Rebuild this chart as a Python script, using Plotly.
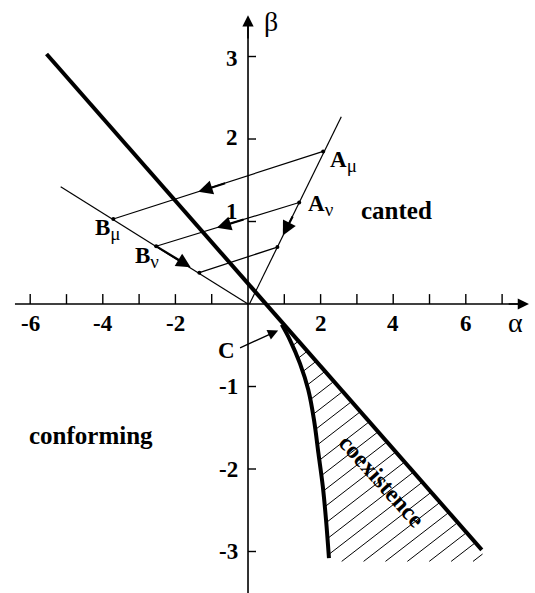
import plotly.graph_objects as go

# ---- phase diagram data (alpha, beta) ----
# straight first-order boundary (thick)
boundary_alpha = [-5.55, 6.44]
boundary_beta = [3.03, -2.98]

# curved boundary of the coexistence region, starting at point C
curve_alpha = [0.93, 1.16, 1.43, 1.66, 1.82, 1.94, 2.06, 2.15, 2.23]
curve_beta = [-0.25, -0.44, -0.72, -1.04, -1.41, -1.81, -2.21, -2.62, -3.08]

# lower closing edge of the hatched region
hatch_bottom_alpha = [2.25, 6.50, 6.44]
hatch_bottom_beta = [-3.12, -3.12, -2.98]

# thin rays through the origin (A side and B side)
a_ray_alpha = [0.04, 2.57]
a_ray_beta = [0.0, 2.27]
b_ray_alpha = [-5.16, 0.0]
b_ray_beta = [1.42, 0.0]

# mapping segments A -> B
seg_names = ["mu", "nu", "low"]
seg_a_alpha = [2.07, 1.41, 0.81]
seg_a_beta = [1.85, 1.23, 0.69]
seg_b_alpha = [-3.71, -2.53, -1.34]
seg_b_beta = [1.03, 0.70, 0.38]

# flow arrows: head and tail positions
arrow_head_alpha = [-1.37, -0.86, 0.96, -1.58]
arrow_head_beta = [1.36, 0.925, 0.83, 0.446]
arrow_tail_alpha = [-0.59, -0.08, 1.25, -2.53]
arrow_tail_beta = [1.47, 1.03, 1.08, 0.70]

# pointer to C
c_head = (0.83, -0.32)
c_tail = (-0.26, -0.54)

# axes
x_ticks = [-6, -5, -4, -3, -2, -1, 1, 2, 3, 4, 5, 6, 7]
x_tick_labels = ["-6", "-4", "-2", "2", "4", "6"]
x_tick_label_pos = [-6, -4, -2, 2, 4, 6]
y_ticks = [-3, -2, -1, 1, 2, 3]
y_tick_labels = ["-3", "-2", "-1", "1", "2", "3"]
y_tick_label_pos = [-3.0, -2.0, -1.0, 1.12, 2.02, 2.97]

X_AXIS = (-6.42, 7.74)
Y_AXIS = (-3.52, 3.50)
X_RANGE = [-6.832, 7.906]
Y_RANGE = [-3.503, 3.685]

# hatching: slope in data units and spacing of the lines (beta offset)
HATCH_SLOPE = 0.34
HATCH_STEP = 0.205

SERIF = "Liberation Serif, Times New Roman, serif"
BLACK = "black"


def hatch_segments(px, py, slope, step):
    """Clip the family of lines beta = slope*alpha + c to the polygon (px, py)."""
    n = len(px)
    offsets = [py[i] - slope * px[i] for i in range(n)]
    c = min(offsets) + step * 0.5
    xs, ys = [], []
    while c < max(offsets):
        hits = []
        for i in range(n):
            x1, y1 = px[i], py[i]
            x2, y2 = px[(i + 1) % n], py[(i + 1) % n]
            f1 = y1 - slope * x1 - c
            f2 = y2 - slope * x2 - c
            if (f1 > 0) != (f2 > 0):
                t = f1 / (f1 - f2)
                hits.append(x1 + t * (x2 - x1))
        hits.sort()
        for j in range(0, len(hits) - 1, 2):
            xs += [hits[j], hits[j + 1], None]
            ys += [slope * hits[j] + c, slope * hits[j + 1] + c, None]
        c += step
    return xs, ys


fig = go.Figure()

# hatched coexistence region
poly_a = curve_alpha + hatch_bottom_alpha
poly_b = curve_beta + hatch_bottom_beta
hx, hy = hatch_segments(poly_a, poly_b, HATCH_SLOPE, HATCH_STEP)
fig.add_trace(go.Scatter(x=hx, y=hy, mode="lines", line=dict(color=BLACK, width=1.0),
                         hoverinfo="skip"))

# axes lines
fig.add_trace(go.Scatter(x=[X_AXIS[0], X_AXIS[1] - 0.25], y=[0, 0], mode="lines",
                         line=dict(color=BLACK, width=1.6), hoverinfo="skip"))
fig.add_trace(go.Scatter(x=[0, 0], y=[Y_AXIS[0], Y_AXIS[1] - 0.1], mode="lines",
                         line=dict(color=BLACK, width=1.6), hoverinfo="skip"))

# tick marks
tx, ty = [], []
for t in x_ticks:
    tx += [t, t, None]
    ty += [0, 0.12, None]
for t in y_ticks:
    tx += [0, 0.22, None]
    ty += [t, t, None]
fig.add_trace(go.Scatter(x=tx, y=ty, mode="lines", line=dict(color=BLACK, width=1.4),
                         hoverinfo="skip"))

# thin rays
fig.add_trace(go.Scatter(x=a_ray_alpha, y=a_ray_beta, mode="lines",
                         line=dict(color=BLACK, width=1.2), hoverinfo="skip"))
fig.add_trace(go.Scatter(x=b_ray_alpha, y=b_ray_beta, mode="lines",
                         line=dict(color=BLACK, width=1.2), hoverinfo="skip"))

# A -> B segments
for i in range(len(seg_names)):
    fig.add_trace(go.Scatter(x=[seg_a_alpha[i], seg_b_alpha[i]], y=[seg_a_beta[i], seg_b_beta[i]],
                             mode="lines", line=dict(color=BLACK, width=1.2), hoverinfo="skip"))

# end-point dots
fig.add_trace(go.Scatter(x=seg_a_alpha + seg_b_alpha, y=seg_a_beta + seg_b_beta, mode="markers",
                         marker=dict(color=BLACK, size=4), hoverinfo="skip"))

# thick boundaries
fig.add_trace(go.Scatter(x=boundary_alpha, y=boundary_beta, mode="lines",
                         line=dict(color=BLACK, width=4), hoverinfo="skip"))
fig.add_trace(go.Scatter(x=curve_alpha, y=curve_beta, mode="lines", line_shape="spline",
                         line=dict(color=BLACK, width=4), hoverinfo="skip"))

annotations = []


def arrow(hx_, hy_, tx_, ty_, width=2.2, size=1.3, head=2):
    annotations.append(dict(x=hx_, y=hy_, ax=tx_, ay=ty_, xref="x", yref="y", axref="x", ayref="y",
                            text="", showarrow=True, arrowhead=head, arrowsize=size,
                            arrowwidth=width, arrowcolor=BLACK, standoff=0, startstandoff=0))


for i in range(len(arrow_head_alpha)):
    arrow(arrow_head_alpha[i], arrow_head_beta[i], arrow_tail_alpha[i], arrow_tail_beta[i])

arrow(c_head[0], c_head[1], c_tail[0], c_tail[1], width=1.3, size=1.6)

# axis arrowheads
arrow(X_AXIS[1], 0, X_AXIS[1] - 0.6, 0, width=1.6, size=1.4)
arrow(0, Y_AXIS[1], 0, Y_AXIS[1] - 0.3, width=1.6, size=1.4)


def label(x, y, text, size=22, bold=True, xanchor="center", yanchor="middle", angle=0):
    annotations.append(dict(x=x, y=y, xref="x", yref="y", text=text, showarrow=False,
                            xanchor=xanchor, yanchor=yanchor, textangle=angle,
                            font=dict(family=SERIF, size=size, color=BLACK,
                                      weight="bold" if bold else "normal")))


def point_label(name, sub):
    return (name + "<sub><span style='font-size:19px;font-weight:normal'>"
            + sub + "</span></sub>")


for pos, txt in zip(x_tick_label_pos, x_tick_labels):
    label(pos, -0.235, txt, size=23)
for pos, txt in zip(y_tick_label_pos, y_tick_labels):
    label(-0.22, pos, txt, size=23, xanchor="right")

label(7.36, -0.22, "α", size=28, bold=False)
label(0.63, 3.43, "β", size=28, bold=False)

label(2.20, 1.73, point_label("A", "μ"), size=23, xanchor="left")
label(1.60, 1.20, point_label("A", "ν"), size=23, xanchor="left")
label(-4.28, 0.90, point_label("B", "μ"), size=23, xanchor="left")
label(-3.18, 0.56, point_label("B", "ν"), size=23, xanchor="left")
label(-0.58, -0.56, "C", size=23)

label(3.06, 1.13, "canted", size=25, xanchor="left")
label(-6.10, -1.59, "conforming", size=25, xanchor="left")
label(3.68, -2.15, "coexistence", size=24, angle=48)

fig.update_layout(
    width=535, height=593,
    margin=dict(l=0, r=0, t=0, b=0),
    paper_bgcolor="white", plot_bgcolor="white",
    showlegend=False,
    xaxis=dict(range=X_RANGE, visible=False, fixedrange=True),
    yaxis=dict(range=Y_RANGE, visible=False, fixedrange=True),
    annotations=annotations,
)

fig.write_html("out.html")
